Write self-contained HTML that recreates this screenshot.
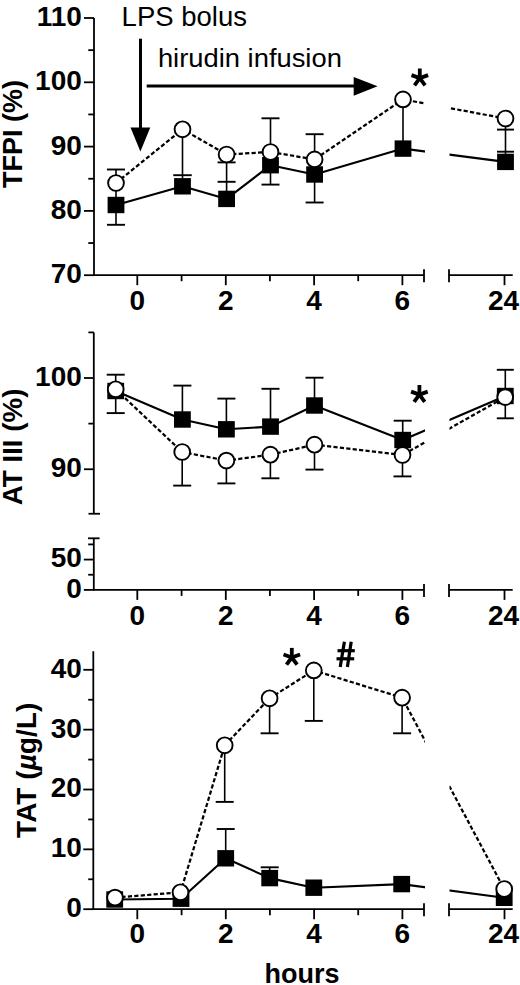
<!DOCTYPE html><html><head><meta charset="utf-8"><style>html,body{margin:0;padding:0;background:#fff;}svg{display:block;}</style></head><body>
<svg width="520" height="985" viewBox="0 0 520 985" font-family='"Liberation Sans", sans-serif' stroke="#000" fill="#000">
<defs><clipPath id="brk"><rect x="0" y="0" width="425" height="985"/><rect x="449.5" y="0" width="80" height="985"/></clipPath></defs>
<line x1="94" y1="18.0" x2="94" y2="275.2" stroke-width="1.8" />
<line x1="84" y1="18.0" x2="94" y2="18.0" stroke-width="1.8" />
<text stroke="none" x="81.8" y="25.9" font-size="28" font-weight="bold" text-anchor="end" >110</text>
<line x1="84" y1="82.3" x2="94" y2="82.3" stroke-width="1.8" />
<text stroke="none" x="81.8" y="90.2" font-size="28" font-weight="bold" text-anchor="end" >100</text>
<line x1="84" y1="146.6" x2="94" y2="146.6" stroke-width="1.8" />
<text stroke="none" x="81.8" y="154.5" font-size="28" font-weight="bold" text-anchor="end" >90</text>
<line x1="84" y1="210.9" x2="94" y2="210.9" stroke-width="1.8" />
<text stroke="none" x="81.8" y="218.8" font-size="28" font-weight="bold" text-anchor="end" >80</text>
<line x1="84" y1="275.2" x2="94" y2="275.2" stroke-width="1.8" />
<text stroke="none" x="81.8" y="283.1" font-size="28" font-weight="bold" text-anchor="end" >70</text>
<line x1="88.3" y1="50.15" x2="94" y2="50.15" stroke-width="1.8" />
<line x1="88.3" y1="114.45" x2="94" y2="114.45" stroke-width="1.8" />
<line x1="88.3" y1="178.75" x2="94" y2="178.75" stroke-width="1.8" />
<line x1="88.3" y1="243.05" x2="94" y2="243.05" stroke-width="1.8" />
<line x1="93.1" y1="275.2" x2="424" y2="275.2" stroke-width="1.8" />
<line x1="424" y1="269.2" x2="424" y2="282.2" stroke-width="1.8" />
<line x1="449" y1="275.2" x2="512.7" y2="275.2" stroke-width="1.8" />
<line x1="449" y1="269.2" x2="449" y2="282.2" stroke-width="1.8" />
<line x1="137.3" y1="275.2" x2="137.3" y2="285.2" stroke-width="1.8" />
<text stroke="none" x="137.3" y="310" font-size="28" font-weight="bold" text-anchor="middle" >0</text>
<line x1="225.8" y1="275.2" x2="225.8" y2="285.2" stroke-width="1.8" />
<text stroke="none" x="225.8" y="310" font-size="28" font-weight="bold" text-anchor="middle" >2</text>
<line x1="314.1" y1="275.2" x2="314.1" y2="285.2" stroke-width="1.8" />
<text stroke="none" x="314.1" y="310" font-size="28" font-weight="bold" text-anchor="middle" >4</text>
<line x1="402.4" y1="275.2" x2="402.4" y2="285.2" stroke-width="1.8" />
<text stroke="none" x="402.4" y="310" font-size="28" font-weight="bold" text-anchor="middle" >6</text>
<line x1="504.5" y1="275.2" x2="504.5" y2="285.2" stroke-width="1.8" />
<text stroke="none" x="503.6" y="310" font-size="28" font-weight="bold" text-anchor="middle" >24</text>
<line x1="181.6" y1="275.2" x2="181.6" y2="281.2" stroke-width="1.8" />
<line x1="269.9" y1="275.2" x2="269.9" y2="281.2" stroke-width="1.8" />
<line x1="358.2" y1="275.2" x2="358.2" y2="281.2" stroke-width="1.8" />
<text stroke="none" transform="translate(22.3,188) rotate(-90)" font-size="27" font-weight="bold" stroke="none">TFPI (%)</text>
<text stroke="none" x="121.6" y="25.6" font-size="27.5" font-weight="normal" text-anchor="start" stroke="none">LPS bolus</text>
<line x1="140.5" y1="38.7" x2="140.5" y2="130" stroke-width="3.0" />
<polygon points="130.5,127.6 150.3,127.6 140.4,151.4" stroke="none"/>
<text stroke="none" transform="translate(157.9,66.8) scale(1.04,1)" font-size="26.3" font-weight="normal">hirudin infusion</text>
<line x1="146.7" y1="86.1" x2="356" y2="86.1" stroke-width="3.0" />
<polygon points="353.7,76.9 353.7,95.7 377.6,86.3" stroke="none"/>
<line x1="419.8" y1="78.1" x2="419.8" y2="68.5" stroke-width="3.8"/>
<line x1="419.8" y1="78.1" x2="411.5" y2="75.1" stroke-width="3.8"/>
<line x1="419.8" y1="78.1" x2="428.1" y2="75.1" stroke-width="3.8"/>
<line x1="419.8" y1="78.1" x2="414.5" y2="85.3" stroke-width="3.8"/>
<line x1="419.8" y1="78.1" x2="425.1" y2="85.3" stroke-width="3.8"/>
<circle cx="419.8" cy="78.1" r="2.85" stroke="none"/>
<line x1="116" y1="183" x2="116" y2="169.5" stroke-width="1.6" />
<line x1="107.0" y1="169.5" x2="125.0" y2="169.5" stroke-width="1.9" />
<line x1="116" y1="183" x2="116" y2="205" stroke-width="1.6" />
<line x1="116" y1="205" x2="116" y2="224.8" stroke-width="1.6" />
<line x1="107.0" y1="224.8" x2="125.0" y2="224.8" stroke-width="1.9" />
<line x1="182.5" y1="129.3" x2="182.5" y2="186.3" stroke-width="1.6" />
<line x1="173.25" y1="175.2" x2="191.75" y2="175.2" stroke-width="1.9" />
<line x1="226.6" y1="154.5" x2="226.6" y2="198.9" stroke-width="1.6" />
<line x1="217.6" y1="162.4" x2="235.6" y2="162.4" stroke-width="1.9" />
<line x1="217.6" y1="181.8" x2="235.6" y2="181.8" stroke-width="1.9" />
<line x1="270.5" y1="152" x2="270.5" y2="118.3" stroke-width="1.6" />
<line x1="261.5" y1="118.3" x2="279.5" y2="118.3" stroke-width="1.9" />
<line x1="270.5" y1="165.2" x2="270.5" y2="184.6" stroke-width="1.6" />
<line x1="261.5" y1="184.6" x2="279.5" y2="184.6" stroke-width="1.9" />
<line x1="314.6" y1="159.4" x2="314.6" y2="134.2" stroke-width="1.6" />
<line x1="305.6" y1="134.2" x2="323.6" y2="134.2" stroke-width="1.9" />
<line x1="314.6" y1="174.5" x2="314.6" y2="202.5" stroke-width="1.6" />
<line x1="305.6" y1="202.5" x2="323.6" y2="202.5" stroke-width="1.9" />
<line x1="403" y1="99.4" x2="403" y2="148.6" stroke-width="1.6" />
<line x1="505.5" y1="118.5" x2="505.5" y2="161.9" stroke-width="1.6" />
<line x1="497.0" y1="129.6" x2="514.0" y2="129.6" stroke-width="1.9" />
<line x1="497.0" y1="151.7" x2="514.0" y2="151.7" stroke-width="1.9" />
<polyline points="116,205 182.5,186.3 226.6,198.9 270.5,165.2 314.6,174.5 403,148.6 505.5,161.9" fill="none" stroke-width="2.1" stroke-linejoin="round" clip-path="url(#brk)"/>
<polyline points="116,183 182.5,129.3 226.6,154.5 270.5,152 314.6,159.4 403,99.4 505.5,118.5" fill="none" stroke-width="2.25" stroke-dasharray="4.2 2.25" clip-path="url(#brk)"/>
<rect x="107.6" y="196.8" width="16.8" height="16.4" fill="#000" stroke="none"/>
<rect x="174.1" y="178.1" width="16.8" height="16.4" fill="#000" stroke="none"/>
<rect x="218.2" y="190.7" width="16.8" height="16.4" fill="#000" stroke="none"/>
<rect x="262.1" y="157.0" width="16.8" height="16.4" fill="#000" stroke="none"/>
<rect x="306.2" y="166.3" width="16.8" height="16.4" fill="#000" stroke="none"/>
<rect x="394.6" y="140.4" width="16.8" height="16.4" fill="#000" stroke="none"/>
<rect x="497.1" y="153.7" width="16.8" height="16.4" fill="#000" stroke="none"/>
<circle cx="116" cy="183" r="7.9" fill="#fff" stroke="#000" stroke-width="1.9"/>
<circle cx="182.5" cy="129.3" r="7.9" fill="#fff" stroke="#000" stroke-width="1.9"/>
<circle cx="226.6" cy="154.5" r="7.9" fill="#fff" stroke="#000" stroke-width="1.9"/>
<circle cx="270.5" cy="152" r="7.9" fill="#fff" stroke="#000" stroke-width="1.9"/>
<circle cx="314.6" cy="159.4" r="7.9" fill="#fff" stroke="#000" stroke-width="1.9"/>
<circle cx="403" cy="99.4" r="7.9" fill="#fff" stroke="#000" stroke-width="1.9"/>
<circle cx="505.5" cy="118.5" r="7.9" fill="#fff" stroke="#000" stroke-width="1.9"/>
<line x1="93.8" y1="332.4" x2="93.8" y2="513.75" stroke-width="1.8" />
<line x1="88.5" y1="513.75" x2="100" y2="513.75" stroke-width="1.8" />
<line x1="88.4" y1="332.4" x2="93.8" y2="332.4" stroke-width="1.8" />
<line x1="84" y1="378.0" x2="93.8" y2="378.0" stroke-width="1.8" />
<text stroke="none" x="81.8" y="385.9" font-size="28" font-weight="bold" text-anchor="end" >100</text>
<line x1="88.4" y1="423.62" x2="93.8" y2="423.62" stroke-width="1.8" />
<line x1="84" y1="469.25" x2="93.8" y2="469.25" stroke-width="1.8" />
<text stroke="none" x="81.8" y="477.15" font-size="28" font-weight="bold" text-anchor="end" >90</text>
<line x1="93.8" y1="538.3" x2="93.8" y2="589.9" stroke-width="1.8" />
<line x1="88" y1="538.3" x2="99.6" y2="538.3" stroke-width="1.8" />
<line x1="88.2" y1="544.41" x2="93.8" y2="544.41" stroke-width="1.8" />
<line x1="83.8" y1="559.57" x2="93.8" y2="559.57" stroke-width="1.8" />
<text stroke="none" x="81.8" y="567.47" font-size="28" font-weight="bold" text-anchor="end" >50</text>
<line x1="88.2" y1="574.74" x2="93.8" y2="574.74" stroke-width="1.8" />
<line x1="83.8" y1="589.9" x2="93.8" y2="589.9" stroke-width="1.8" />
<text stroke="none" x="81.8" y="597.8" font-size="28" font-weight="bold" text-anchor="end" >0</text>
<line x1="92.9" y1="589.9" x2="424" y2="589.9" stroke-width="1.8" />
<line x1="424" y1="583.9" x2="424" y2="596.9" stroke-width="1.8" />
<line x1="449" y1="589.9" x2="512.7" y2="589.9" stroke-width="1.8" />
<line x1="449" y1="583.9" x2="449" y2="596.9" stroke-width="1.8" />
<line x1="137.3" y1="589.9" x2="137.3" y2="599.9" stroke-width="1.8" />
<text stroke="none" x="137.3" y="624.6" font-size="28" font-weight="bold" text-anchor="middle" >0</text>
<line x1="225.8" y1="589.9" x2="225.8" y2="599.9" stroke-width="1.8" />
<text stroke="none" x="225.8" y="624.6" font-size="28" font-weight="bold" text-anchor="middle" >2</text>
<line x1="314.1" y1="589.9" x2="314.1" y2="599.9" stroke-width="1.8" />
<text stroke="none" x="314.1" y="624.6" font-size="28" font-weight="bold" text-anchor="middle" >4</text>
<line x1="402.4" y1="589.9" x2="402.4" y2="599.9" stroke-width="1.8" />
<text stroke="none" x="402.4" y="624.6" font-size="28" font-weight="bold" text-anchor="middle" >6</text>
<line x1="504.5" y1="589.9" x2="504.5" y2="599.9" stroke-width="1.8" />
<text stroke="none" x="503.6" y="624.6" font-size="28" font-weight="bold" text-anchor="middle" >24</text>
<line x1="181.6" y1="589.9" x2="181.6" y2="595.9" stroke-width="1.8" />
<line x1="269.9" y1="589.9" x2="269.9" y2="595.9" stroke-width="1.8" />
<line x1="358.2" y1="589.9" x2="358.2" y2="595.9" stroke-width="1.8" />
<text stroke="none" transform="translate(22,505.3) rotate(-90) scale(1.03,1)" font-size="27" font-weight="bold" stroke="none">AT III (%)</text>
<line x1="419.4" y1="394.6" x2="419.4" y2="385.0" stroke-width="3.8"/>
<line x1="419.4" y1="394.6" x2="411.1" y2="391.6" stroke-width="3.8"/>
<line x1="419.4" y1="394.6" x2="427.7" y2="391.6" stroke-width="3.8"/>
<line x1="419.4" y1="394.6" x2="414.1" y2="401.8" stroke-width="3.8"/>
<line x1="419.4" y1="394.6" x2="424.7" y2="401.8" stroke-width="3.8"/>
<circle cx="419.4" cy="394.6" r="2.85" stroke="none"/>
<line x1="115.7" y1="374.7" x2="115.7" y2="413.1" stroke-width="1.6" />
<line x1="106.7" y1="374.7" x2="124.7" y2="374.7" stroke-width="1.9" />
<line x1="106.7" y1="413.1" x2="124.7" y2="413.1" stroke-width="1.9" />
<line x1="182.4" y1="419.5" x2="182.4" y2="385.6" stroke-width="1.6" />
<line x1="173.4" y1="385.6" x2="191.4" y2="385.6" stroke-width="1.9" />
<line x1="182.2" y1="452" x2="182.2" y2="485.6" stroke-width="1.6" />
<line x1="173.2" y1="485.6" x2="191.2" y2="485.6" stroke-width="1.9" />
<line x1="226.4" y1="429.3" x2="226.4" y2="398.6" stroke-width="1.6" />
<line x1="217.4" y1="398.6" x2="235.4" y2="398.6" stroke-width="1.9" />
<line x1="226.4" y1="460.6" x2="226.4" y2="483.4" stroke-width="1.6" />
<line x1="217.4" y1="483.4" x2="235.4" y2="483.4" stroke-width="1.9" />
<line x1="270.5" y1="426.6" x2="270.5" y2="388.8" stroke-width="1.6" />
<line x1="261.5" y1="388.8" x2="279.5" y2="388.8" stroke-width="1.9" />
<line x1="270.4" y1="454.7" x2="270.4" y2="478.3" stroke-width="1.6" />
<line x1="261.4" y1="478.3" x2="279.4" y2="478.3" stroke-width="1.9" />
<line x1="314.5" y1="405.5" x2="314.5" y2="377.7" stroke-width="1.6" />
<line x1="305.5" y1="377.7" x2="323.5" y2="377.7" stroke-width="1.9" />
<line x1="314.5" y1="444.7" x2="314.5" y2="469.6" stroke-width="1.6" />
<line x1="305.5" y1="469.6" x2="323.5" y2="469.6" stroke-width="1.9" />
<line x1="402.7" y1="440" x2="402.7" y2="420.7" stroke-width="1.6" />
<line x1="393.7" y1="420.7" x2="411.7" y2="420.7" stroke-width="1.9" />
<line x1="402.5" y1="455" x2="402.5" y2="476.4" stroke-width="1.6" />
<line x1="393.5" y1="476.4" x2="411.5" y2="476.4" stroke-width="1.9" />
<line x1="505.3" y1="369.8" x2="505.3" y2="418.3" stroke-width="1.6" />
<line x1="496.8" y1="369.8" x2="513.8" y2="369.8" stroke-width="1.9" />
<line x1="496.8" y1="418.3" x2="513.8" y2="418.3" stroke-width="1.9" />
<polyline points="115.7,391 182.4,419.5 226.4,429.3 270.5,426.6 314.5,405.5 402.7,440 505.3,396" fill="none" stroke-width="2.1" stroke-linejoin="round" clip-path="url(#brk)"/>
<polyline points="115.7,389.3 182.2,452 226.4,460.6 270.4,454.7 314.5,444.7 402.5,455 505.2,397.1" fill="none" stroke-width="2.25" stroke-dasharray="4.2 2.25" clip-path="url(#brk)"/>
<rect x="107.3" y="382.8" width="16.8" height="16.4" fill="#000" stroke="none"/>
<rect x="174.0" y="411.3" width="16.8" height="16.4" fill="#000" stroke="none"/>
<rect x="218.0" y="421.1" width="16.8" height="16.4" fill="#000" stroke="none"/>
<rect x="262.1" y="418.4" width="16.8" height="16.4" fill="#000" stroke="none"/>
<rect x="306.1" y="397.3" width="16.8" height="16.4" fill="#000" stroke="none"/>
<rect x="394.3" y="431.8" width="16.8" height="16.4" fill="#000" stroke="none"/>
<rect x="496.9" y="387.8" width="16.8" height="16.4" fill="#000" stroke="none"/>
<circle cx="115.7" cy="389.3" r="7.9" fill="#fff" stroke="#000" stroke-width="1.9"/>
<circle cx="182.2" cy="452" r="7.9" fill="#fff" stroke="#000" stroke-width="1.9"/>
<circle cx="226.4" cy="460.6" r="7.9" fill="#fff" stroke="#000" stroke-width="1.9"/>
<circle cx="270.4" cy="454.7" r="7.9" fill="#fff" stroke="#000" stroke-width="1.9"/>
<circle cx="314.5" cy="444.7" r="7.9" fill="#fff" stroke="#000" stroke-width="1.9"/>
<circle cx="402.5" cy="455" r="7.9" fill="#fff" stroke="#000" stroke-width="1.9"/>
<circle cx="505.2" cy="397.1" r="7.9" fill="#fff" stroke="#000" stroke-width="1.9"/>
<line x1="93.3" y1="651.3" x2="93.3" y2="909.2" stroke-width="1.8" />
<line x1="83.3" y1="669.8" x2="93.3" y2="669.8" stroke-width="1.8" />
<text stroke="none" x="81.8" y="677.7" font-size="28" font-weight="bold" text-anchor="end" >40</text>
<line x1="83.3" y1="729.65" x2="93.3" y2="729.65" stroke-width="1.8" />
<text stroke="none" x="81.8" y="737.55" font-size="28" font-weight="bold" text-anchor="end" >30</text>
<line x1="83.3" y1="789.5" x2="93.3" y2="789.5" stroke-width="1.8" />
<text stroke="none" x="81.8" y="797.4" font-size="28" font-weight="bold" text-anchor="end" >20</text>
<line x1="83.3" y1="849.35" x2="93.3" y2="849.35" stroke-width="1.8" />
<text stroke="none" x="81.8" y="857.25" font-size="28" font-weight="bold" text-anchor="end" >10</text>
<line x1="83.3" y1="909.2" x2="93.3" y2="909.2" stroke-width="1.8" />
<text stroke="none" x="81.8" y="917.1" font-size="28" font-weight="bold" text-anchor="end" >0</text>
<line x1="88.2" y1="699.73" x2="93.3" y2="699.73" stroke-width="1.8" />
<line x1="88.2" y1="759.58" x2="93.3" y2="759.58" stroke-width="1.8" />
<line x1="88.2" y1="819.43" x2="93.3" y2="819.43" stroke-width="1.8" />
<line x1="88.2" y1="879.28" x2="93.3" y2="879.28" stroke-width="1.8" />
<line x1="92.4" y1="909.2" x2="424" y2="909.2" stroke-width="1.8" />
<line x1="424" y1="903.2" x2="424" y2="916.2" stroke-width="1.8" />
<line x1="449" y1="909.2" x2="512.7" y2="909.2" stroke-width="1.8" />
<line x1="449" y1="903.2" x2="449" y2="916.2" stroke-width="1.8" />
<line x1="137.3" y1="909.2" x2="137.3" y2="919.2" stroke-width="1.8" />
<text stroke="none" x="137.3" y="943.2" font-size="28" font-weight="bold" text-anchor="middle" >0</text>
<line x1="225.8" y1="909.2" x2="225.8" y2="919.2" stroke-width="1.8" />
<text stroke="none" x="225.8" y="943.2" font-size="28" font-weight="bold" text-anchor="middle" >2</text>
<line x1="314.1" y1="909.2" x2="314.1" y2="919.2" stroke-width="1.8" />
<text stroke="none" x="314.1" y="943.2" font-size="28" font-weight="bold" text-anchor="middle" >4</text>
<line x1="402.4" y1="909.2" x2="402.4" y2="919.2" stroke-width="1.8" />
<text stroke="none" x="402.4" y="943.2" font-size="28" font-weight="bold" text-anchor="middle" >6</text>
<line x1="504.5" y1="909.2" x2="504.5" y2="919.2" stroke-width="1.8" />
<text stroke="none" x="503.6" y="943.2" font-size="28" font-weight="bold" text-anchor="middle" >24</text>
<line x1="181.6" y1="909.2" x2="181.6" y2="915.2" stroke-width="1.8" />
<line x1="269.9" y1="909.2" x2="269.9" y2="915.2" stroke-width="1.8" />
<line x1="358.2" y1="909.2" x2="358.2" y2="915.2" stroke-width="1.8" />
<text stroke="none" transform="translate(35.7,837.9) rotate(-90) scale(1.04,1)" font-size="27" font-weight="bold" stroke="none">TAT (<tspan font-style="italic">µ</tspan>g/L)</text>
<line x1="291.8" y1="657.5" x2="291.8" y2="647.9" stroke-width="3.8"/>
<line x1="291.8" y1="657.5" x2="283.5" y2="654.5" stroke-width="3.8"/>
<line x1="291.8" y1="657.5" x2="300.1" y2="654.5" stroke-width="3.8"/>
<line x1="291.8" y1="657.5" x2="286.5" y2="664.7" stroke-width="3.8"/>
<line x1="291.8" y1="657.5" x2="297.1" y2="664.7" stroke-width="3.8"/>
<circle cx="291.8" cy="657.5" r="2.85" stroke="none"/>
<g stroke-width="3.2"><line x1="344.4" y1="641.8" x2="340.2" y2="667"/><line x1="351.2" y1="641.8" x2="347.4" y2="667"/><line x1="337.5" y1="650.7" x2="354.8" y2="650.7"/><line x1="336.5" y1="658.8" x2="354.2" y2="658.8"/></g>
<text stroke="none" x="302" y="983" font-size="27" font-weight="bold" text-anchor="middle" stroke="none">hours</text>
<line x1="224.7" y1="745.3" x2="224.7" y2="801.9" stroke-width="1.6" />
<line x1="215.7" y1="801.9" x2="233.7" y2="801.9" stroke-width="1.9" />
<line x1="225.7" y1="858.3" x2="225.7" y2="829" stroke-width="1.6" />
<line x1="216.7" y1="829" x2="234.7" y2="829" stroke-width="1.9" />
<line x1="269.6" y1="698.3" x2="269.6" y2="733.3" stroke-width="1.6" />
<line x1="260.6" y1="733.3" x2="278.6" y2="733.3" stroke-width="1.9" />
<line x1="269.7" y1="878.1" x2="269.7" y2="867.3" stroke-width="1.6" />
<line x1="260.7" y1="867.3" x2="278.7" y2="867.3" stroke-width="1.9" />
<line x1="313.8" y1="670.4" x2="313.8" y2="720.9" stroke-width="1.6" />
<line x1="304.8" y1="720.9" x2="322.8" y2="720.9" stroke-width="1.9" />
<line x1="402.1" y1="697.7" x2="402.1" y2="733.3" stroke-width="1.6" />
<line x1="393.1" y1="733.3" x2="411.1" y2="733.3" stroke-width="1.9" />
<polyline points="114.7,899.5 181,898.7 225.7,858.3 269.7,878.1 313.8,887.7 401.7,884.1 504.2,897.8" fill="none" stroke-width="2.1" stroke-linejoin="round" clip-path="url(#brk)"/>
<polyline points="115,897.6 180.5,892.3 224.7,745.3 269.6,698.3 313.8,670.4 402.1,697.7 504.2,889" fill="none" stroke-width="2.25" stroke-dasharray="4.2 2.25" clip-path="url(#brk)"/>
<rect x="106.3" y="891.3" width="16.8" height="16.4" fill="#000" stroke="none"/>
<rect x="172.6" y="890.5" width="16.8" height="16.4" fill="#000" stroke="none"/>
<rect x="217.3" y="850.1" width="16.8" height="16.4" fill="#000" stroke="none"/>
<rect x="261.3" y="869.9" width="16.8" height="16.4" fill="#000" stroke="none"/>
<rect x="305.4" y="879.5" width="16.8" height="16.4" fill="#000" stroke="none"/>
<rect x="393.3" y="875.9" width="16.8" height="16.4" fill="#000" stroke="none"/>
<rect x="495.8" y="889.6" width="16.8" height="16.4" fill="#000" stroke="none"/>
<circle cx="115" cy="897.6" r="7.9" fill="#fff" stroke="#000" stroke-width="1.9"/>
<circle cx="180.5" cy="892.3" r="7.9" fill="#fff" stroke="#000" stroke-width="1.9"/>
<circle cx="224.7" cy="745.3" r="7.9" fill="#fff" stroke="#000" stroke-width="1.9"/>
<circle cx="269.6" cy="698.3" r="7.9" fill="#fff" stroke="#000" stroke-width="1.9"/>
<circle cx="313.8" cy="670.4" r="7.9" fill="#fff" stroke="#000" stroke-width="1.9"/>
<circle cx="402.1" cy="697.7" r="7.9" fill="#fff" stroke="#000" stroke-width="1.9"/>
<circle cx="504.2" cy="889" r="7.9" fill="#fff" stroke="#000" stroke-width="1.9"/>
</svg></body></html>
